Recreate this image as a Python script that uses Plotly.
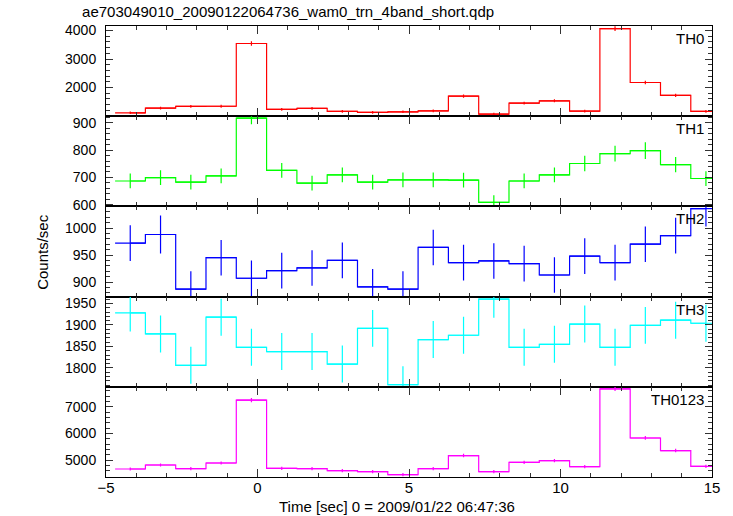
import plotly.graph_objects as go
from plotly.subplots import make_subplots

# ---- data ----
time_centers = [-4.2, -3.2, -2.2, -1.2, -0.2, 0.8, 1.8, 2.8, 3.8, 4.8,
                5.8, 6.8, 7.8, 8.8, 9.8, 10.8, 11.8, 12.8, 13.8, 14.8]
bin_halfwidth = 0.5

th0 = [1110, 1275, 1335, 1340, 3545, 1230, 1265, 1160, 1125, 1145,
       1180, 1695, 1065, 1450, 1530, 1170, 4070, 2175, 1720, 1160]
th0_err = [45, 48, 50, 50, 80, 48, 48, 46, 46, 46,
           47, 55, 45, 52, 53, 47, 85, 60, 55, 46]

th1 = [687, 699, 683, 706, 917, 726, 679, 709, 683, 691,
       691, 690, 609, 687, 709, 751, 787, 798, 747, 696]
th1_err = [27, 27, 27, 27, 22, 27, 27, 27, 27, 27,
           27, 27, 26, 27, 27, 28, 29, 31, 28, 27]

th2 = [972, 988, 887, 945, 907, 921, 926, 940, 891, 887,
       964, 936, 939, 934, 913, 948, 936, 970, 986, 1036]
th2_err = [33, 35, 33, 33, 33, 33, 33, 33, 33, 33,
           33, 33, 33, 33, 33, 33, 33, 33, 33, 33]

th3 = [1928, 1879, 1806, 1918, 1848, 1838, 1838, 1809, 1892, 1761,
       1866, 1876, 1960, 1848, 1855, 1902, 1848, 1899, 1911, 1904]
th3_err = [43, 43, 43, 43, 43, 43, 43, 43, 43, 43,
           43, 43, 43, 43, 43, 43, 43, 43, 43, 43]

th0123 = [4674, 4824, 4688, 4899, 7250, 4700, 4688, 4614, 4577, 4464,
          4688, 5176, 4577, 4925, 4988, 4763, 7675, 5835, 5363, 4775]
th0123_err = [60, 60, 60, 60, 80, 60, 60, 60, 60, 60,
              60, 65, 60, 62, 62, 60, 85, 70, 65, 60]

panel_names = ["TH0", "TH1", "TH2", "TH3", "TH0123"]
panel_colors = ["#ff0000", "#00ff00", "#0000ff", "#00ffff", "#ff00ff"]
panel_values = [th0, th1, th2, th3, th0123]
panel_errors = [th0_err, th1_err, th2_err, th3_err, th0123_err]
y_ranges = [[990, 4160], [594, 924], [873, 1040], [1756, 1966], [4375, 7750]]
y_tickvals = [[2000, 3000, 4000], [600, 700, 800, 900], [900, 950, 1000],
              [1800, 1850, 1900, 1950], [5000, 6000, 7000]]
y_minor = [200, 20, 10, 10, 200]

title_text = "ae703049010_20090122064736_wam0_trn_4band_short.qdp"
x_title = "Time [sec] 0 = 2009/01/22 06:47:36"
y_title = "Counts/sec"

FONT = "Liberation Sans, Arial, Helvetica, sans-serif"

fig = make_subplots(rows=5, cols=1, shared_xaxes=True, vertical_spacing=0)

for i in range(5):
    fig.add_trace(go.Scatter(
        x=time_centers, y=panel_values[i], mode="lines",
        line=dict(color=panel_colors[i], width=1.2, shape="hvh"),
        error_x=dict(type="constant", value=bin_halfwidth, width=0,
                     thickness=1.2, color=panel_colors[i]),
        error_y=dict(type="data", array=panel_errors[i], width=0,
                     thickness=1.2, color=panel_colors[i]),
        showlegend=False, hoverinfo="x+y"), row=i + 1, col=1)

    fig.update_yaxes(row=i + 1, col=1, range=y_ranges[i],
                     tickmode="array", tickvals=y_tickvals[i],
                     ticks="inside", ticklen=7, tickwidth=1, tickcolor="#333",
                     minor=dict(tickmode="linear", tick0=0, dtick=y_minor[i],
                                ticks="inside", ticklen=4, tickcolor="#333"),
                     showline=True, linecolor="black", linewidth=1,
                     mirror="ticks", showgrid=False, zeroline=False,
                     ticklabelstandoff=6,
                     tickfont=dict(family=FONT, size=14, color="black"))
    fig.update_xaxes(row=i + 1, col=1, range=[-5, 15],
                     tickmode="linear", tick0=-5, dtick=5,
                     ticks="inside", ticklen=8, tickwidth=1, tickcolor="#333",
                     minor=dict(tickmode="linear", tick0=0, dtick=1,
                                ticks="inside", ticklen=4, tickcolor="#333"),
                     showline=True, linecolor="black", linewidth=1,
                     mirror="ticks", showgrid=False, zeroline=False,
                     showticklabels=(i == 4), ticklabelstandoff=-3,
                     tickfont=dict(family=FONT, size=15, color="black"))

    fig.add_annotation(text=panel_names[i], xref=f"x{'' if i == 0 else i + 1} domain",
                       yref=f"y{'' if i == 0 else i + 1} domain",
                       x=1, y=1, xanchor="right", yanchor="top",
                       xshift=-6, yshift=-2, showarrow=False,
                       font=dict(family=FONT, size=15, color="black"))

fig.add_annotation(text=y_title, xref="paper", yref="paper", x=-0.105, y=0.5,
                   textangle=-90, showarrow=False, xanchor="center", yanchor="middle",
                   font=dict(family=FONT, size=15, color="black"))
fig.add_annotation(text=x_title, xref="paper", yref="paper", x=0.481, y=-0.066,
                   showarrow=False, xanchor="center", yanchor="middle",
                   font=dict(family=FONT, size=15, color="black"))

fig.update_layout(
    width=733, height=516,
    margin=dict(l=106, r=21, t=26, b=39),
    paper_bgcolor="white", plot_bgcolor="white",
    title=dict(text=title_text, x=0.112, xanchor="left", y=0.977, yanchor="middle",
               font=dict(family=FONT, size=15, color="black")),
)

fig.write_html("out.html", config={"displayModeBar": False},
               post_script="document.body.style.margin='0';document.body.style.padding='0';")
